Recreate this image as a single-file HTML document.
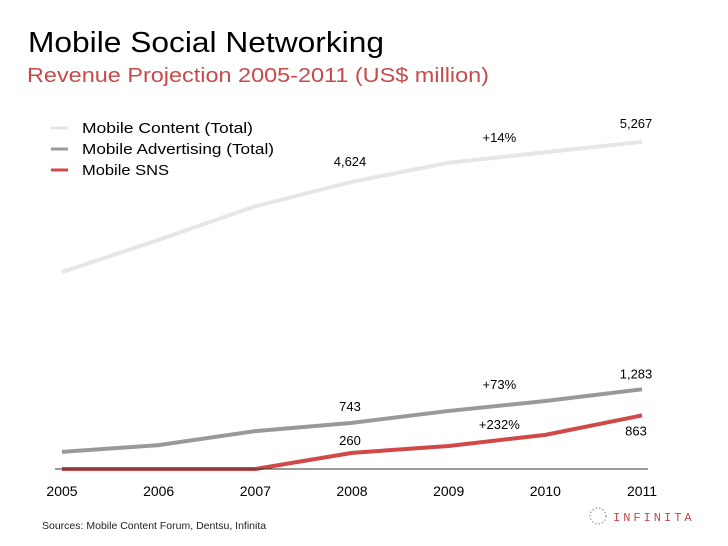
<!DOCTYPE html>
<html><head><meta charset="utf-8"><style>
body{margin:0;width:728px;height:546px;background:#fff;overflow:hidden;font-family:"Liberation Sans",sans-serif}
svg{display:block}
</style></head><body>
<svg width="728" height="546">
<text x="28" y="52" font-size="29" fill="#000" textLength="356" lengthAdjust="spacingAndGlyphs">Mobile Social Networking</text>
<text x="27" y="82" font-size="20" fill="#c84a4a" textLength="462" lengthAdjust="spacingAndGlyphs">Revenue Projection 2005-2011 (US$ million)</text>
<g>
<line x1="51" y1="128" x2="68" y2="128" stroke="#e6e6e6" stroke-width="3"/>
<text x="82" y="133" font-size="15" textLength="171" lengthAdjust="spacingAndGlyphs">Mobile Content (Total)</text>
<line x1="51" y1="149" x2="68" y2="149" stroke="#999" stroke-width="3"/>
<text x="82" y="154" font-size="15" textLength="192" lengthAdjust="spacingAndGlyphs">Mobile Advertising (Total)</text>
<line x1="51" y1="170" x2="68" y2="170" stroke="#d04848" stroke-width="3"/>
<text x="82" y="175" font-size="15" textLength="87" lengthAdjust="spacingAndGlyphs">Mobile SNS</text>
</g>
<g id="plot"></g>
<text x="42" y="529" font-size="10.5" fill="#222">Sources: Mobile Content Forum, Dentsu, Infinita</text>
<g>
<circle cx="598" cy="516" r="8" fill="none" stroke="#aaa" stroke-width="1.5" stroke-dasharray="1.5 2"/>
<text x="613" y="521" font-size="12" fill="#c84a4a" letter-spacing="3" font-family="Liberation Mono,monospace">INFINITA</text>
</g>
</svg>
<script>
const years=["2005","2006","2007","2008","2009","2010","2011"];
const content=[3170,3690,4230,4624,4930,5100,5267];
const advertising=[275,385,610,743,935,1095,1283];
const sns=[0,0,0,260,370,550,863];
const annotations=[
 {t:"5,267",i:6,v:5267,dx:-6,dy:-14},{t:"4,624",i:3,v:4624,dx:-2,dy:-16},{t:"+14%",i:5,v:5100,dx:-46,dy:-10},
 {t:"1,283",i:6,v:1283,dx:-6,dy:-11},{t:"743",i:3,v:743,dx:-2,dy:-12},{t:"+73%",i:5,v:1095,dx:-46,dy:-12},
 {t:"+232%",i:5,v:550,dx:-46,dy:-6},{t:"260",i:3,v:260,dx:-2,dy:-8},{t:"863",i:6,v:863,dx:-6,dy:20}];
const ns="http://www.w3.org/2000/svg";
const g=document.getElementById('plot');
const x=i=>62+i*96.67, y=v=>469-v/16.1;
function mk(tag,a){const e=document.createElementNS(ns,tag);for(const k in a)e.setAttribute(k,a[k]);g.appendChild(e);return e;}
function series(d,c,name){const p=mk('polyline',{points:d.map((v,i)=>x(i)+','+y(v)).join(' '),fill:'none',stroke:c,'stroke-width':4});

}
series(content,'#e6e6e6','content-line');
series(advertising,'#999','advertising-line');
series(sns,'#d04848','sns-line');
const base=mk('line',{x1:55,x2:648,y1:469,y2:469,stroke:'#333','stroke-width':1});


years.forEach((yr,i)=>{const t=mk('text',{x:x(i),y:496,'font-size':14,'text-anchor':'middle'});t.textContent=yr;

});
annotations.forEach(a=>{const t=mk('text',{x:x(a.i)+a.dx,y:y(a.v)+a.dy,'font-size':13,'text-anchor':'middle'});t.textContent=a.t;

});
</script>
</body></html>
